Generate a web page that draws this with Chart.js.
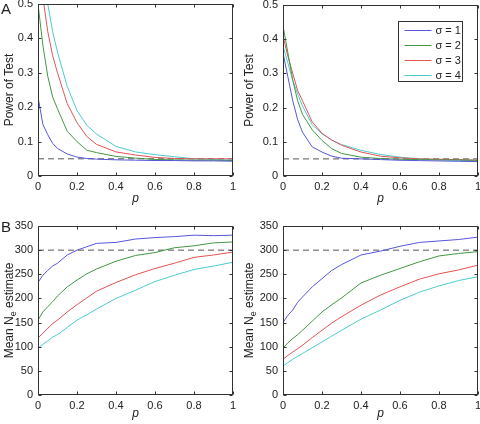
<!DOCTYPE html>
<html>
<head>
<meta charset="utf-8">
<script src="https://cdn.jsdelivr.net/npm/chart.js@4.4.1/dist/chart.umd.min.js"></script>
<style>
  html, body { margin: 0; padding: 0; background: #fff; }
  #wrap { position: relative; width: 480px; height: 424px; }
  canvas { position: absolute; }
</style>
</head>
<body>
<div id="wrap">
  <canvas id="powerLeft" width="240" height="212" style="left:0;top:0"></canvas>
  <canvas id="powerRight" width="240" height="212" style="left:240px;top:0"></canvas>
  <canvas id="neLeft" width="240" height="212" style="left:0;top:212px"></canvas>
  <canvas id="neRight" width="240" height="212" style="left:240px;top:212px"></canvas>
</div>
<script>
const FONT = "'Liberation Sans', Arial, Helvetica, sans-serif";
Chart.defaults.font.family = FONT;
Chart.defaults.font.size = 11;
Chart.defaults.color = "#222";

// sampled migration rates (x axis)
const pValues = [0, 0.025, 0.05, 0.075, 0.1, 0.15, 0.2, 0.25, 0.3, 0.4, 0.5, 0.6, 0.7, 0.8, 0.9, 1];
const pTicks = [0, 0.2, 0.4, 0.6, 0.8, 1];
const powerTicks = [0, 0.1, 0.2, 0.3, 0.4, 0.5];
const neTicks = [0, 50, 100, 150, 200, 250, 300, 350];
const sigmaLabels = ["σ = 1", "σ = 2", "σ = 3", "σ = 4"];
const sigmaColors = ["#5656dc", "#449644", "#e25454", "#4ccccf"];
const nominalPower = 0.05;
const trueNe = 300;

// A, left
const powerL1 = [0.23, 0.15, 0.12, 0.095, 0.08, 0.064, 0.055, 0.051, 0.049, 0.047, 0.046, 0.045, 0.045, 0.044, 0.044, 0.043];
const powerL2 = [0.5, 0.38, 0.29, 0.23, 0.195, 0.13, 0.1, 0.075, 0.068, 0.057, 0.052, 0.048, 0.047, 0.046, 0.046, 0.045];
const powerL3 = [0.62, 0.52, 0.42, 0.35, 0.3, 0.21, 0.155, 0.115, 0.092, 0.07, 0.061, 0.054, 0.051, 0.05, 0.05, 0.05];
const powerL4 = [0.7, 0.6, 0.5, 0.42, 0.36, 0.26, 0.19, 0.148, 0.122, 0.086, 0.07, 0.062, 0.056, 0.05, 0.048, 0.046];

// A, right
const powerR1 = [0.36, 0.29, 0.22, 0.165, 0.128, 0.085, 0.07, 0.058, 0.052, 0.05, 0.048, 0.046, 0.045, 0.044, 0.043, 0.042];
const powerR2 = [0.44, 0.36, 0.28, 0.22, 0.18, 0.135, 0.104, 0.08, 0.066, 0.055, 0.051, 0.049, 0.048, 0.047, 0.047, 0.046];
const powerR3 = [0.41, 0.35, 0.3, 0.25, 0.22, 0.158, 0.125, 0.105, 0.09, 0.07, 0.058, 0.053, 0.05, 0.049, 0.048, 0.046];
const powerR4 = [0.38, 0.33, 0.28, 0.24, 0.205, 0.15, 0.123, 0.105, 0.092, 0.075, 0.063, 0.055, 0.05, 0.048, 0.046, 0.044];

// B, left
const neL1 = [233, 248, 258, 267, 273, 290, 300, 307, 314, 316, 323, 326, 328, 331, 330, 331];
const neL2 = [155, 172, 183, 193, 205, 224, 238, 251, 261, 277, 289, 295, 305, 309, 315, 317];
const neL3 = [118, 128, 138, 148, 155, 172, 187, 201, 215, 233, 249, 262, 273, 285, 290, 296];
const neL4 = [97, 105, 112, 120, 125, 140, 155, 166, 178, 200, 217, 235, 248, 260, 267, 275];

// B, right
const neR1 = [150, 165, 176, 192, 203, 224, 241, 258, 270, 290, 298, 308, 316, 319, 322, 327];
const neR2 = [97, 108, 117, 125, 134, 153, 172, 187, 201, 232, 248, 262, 276, 288, 293, 297];
const neR3 = [74, 82, 89, 96, 103, 119, 134, 149, 162, 186, 207, 224, 240, 251, 259, 269];
const neR4 = [60, 67, 74, 80, 86, 98, 110, 122, 134, 157, 176, 196, 213, 226, 237, 245];

function fmt(v) {
  return String(Math.round(v * 10) / 10);
}

// box, inward ticks, titles, panel letter, legend
const decorPlugin = {
  id: "decor",
  afterDraw(chart, args, o) {
    const { ctx, chartArea: a, scales } = chart;
    ctx.save();
    ctx.strokeStyle = "#333";
    ctx.lineWidth = 1;
    const l = Math.round(a.left) + 0.5, r = Math.round(a.right) - 0.5;
    const t = Math.round(a.top) + 0.5, b = Math.round(a.bottom) - 0.5;
    ctx.strokeRect(l, t, r - l, b - t);
    ctx.beginPath();
    scales.x.ticks.forEach((tk) => {
      const x = Math.round(scales.x.getPixelForValue(tk.value)) + 0.5;
      ctx.moveTo(x, b); ctx.lineTo(x, b - 3);
      ctx.moveTo(x, t); ctx.lineTo(x, t + 3);
    });
    scales.y.ticks.forEach((tk) => {
      const y = Math.round(scales.y.getPixelForValue(tk.value)) + 0.5;
      ctx.moveTo(l, y); ctx.lineTo(l + 3, y);
      ctx.moveTo(r, y); ctx.lineTo(r - 3, y);
    });
    ctx.stroke();

    // x title
    ctx.fillStyle = "#222";
    ctx.font = "italic 12px " + FONT;
    ctx.textAlign = "center";
    ctx.textBaseline = "middle";
    ctx.fillText("p", (a.left + a.right) / 2, a.bottom + o.xTitleGap);

    // y title, with optional subscript
    ctx.save();
    ctx.translate(a.left - o.yTitleGap, (a.top + a.bottom) / 2);
    ctx.rotate(-Math.PI / 2);
    ctx.textAlign = "left";
    ctx.textBaseline = "middle";
    const big = "12px " + FONT, small = "9px " + FONT;
    const parts = o.yTitle;
    let total = 0;
    parts.forEach((pt) => { ctx.font = pt.sub ? small : big; total += ctx.measureText(pt.text).width; });
    let x = -total / 2;
    parts.forEach((pt) => {
      ctx.font = pt.sub ? small : big;
      ctx.fillText(pt.text, x, pt.sub ? 4 : 0);
      x += ctx.measureText(pt.text).width;
    });
    ctx.restore();

    if (o.letter) {
      ctx.font = "15px " + FONT;
      ctx.textAlign = "left";
      ctx.textBaseline = "alphabetic";
      ctx.fillText(o.letter, 1, o.letterY);
    }

    if (o.legend) {
      const bw = 64, bh = 60;
      const bx = Math.round(a.right - 16 - bw) + 0.5, by = Math.round(a.top + 16) + 0.5;
      ctx.fillStyle = "#fff";
      ctx.fillRect(bx, by, bw, bh);
      ctx.strokeStyle = "#333";
      ctx.strokeRect(bx, by, bw, bh);
      ctx.font = "11px " + FONT;
      ctx.textAlign = "left";
      ctx.textBaseline = "middle";
      sigmaLabels.forEach((lab, i) => {
        const y = Math.round(by + 8 + i * 15) + 0.5;
        ctx.strokeStyle = sigmaColors[i];
        ctx.beginPath();
        ctx.moveTo(bx + 6, y); ctx.lineTo(bx + 33, y);
        ctx.stroke();
        ctx.fillStyle = "#222";
        ctx.fillText(lab, bx + 37, y);
      });
    }
    ctx.restore();
  }
};

function renderPanel(id, cfg) {
  const ctx = document.getElementById(id);
  const datasets = cfg.series.map((vals, i) => ({
    label: sigmaLabels[i],
    data: vals.map((v, k) => ({ x: pValues[k], y: v })),
    borderColor: sigmaColors[i],
    borderWidth: 1,
    pointRadius: 0,
    tension: 0
  }));
  datasets.push({
    label: "reference",
    data: [{ x: 0, y: cfg.refLevel }, { x: 1, y: cfg.refLevel }],
    borderColor: "#555",
    borderWidth: 1,
    borderDash: [6, 4],
    pointRadius: 0
  });
  return new Chart(ctx, {
    type: "line",
    data: { datasets },
    options: {
      responsive: false,
      animation: false,
      events: [],
      layout: { padding: { left: 0, top: cfg.top, right: cfg.right, bottom: 0 } },
      plugins: {
        legend: { display: false },
        tooltip: { enabled: false },
        decor: {
          yTitle: cfg.yTitle,
          yTitleGap: cfg.yTitleGap,
          xTitleGap: cfg.xTitleGap,
          letter: cfg.letter,
          letterY: cfg.letterY,
          legend: cfg.legend
        }
      },
      scales: {
        x: {
          type: "linear",
          min: 0,
          max: 1,
          afterBuildTicks: (s) => { s.ticks = pTicks.map((v) => ({ value: v })); },
          afterFit: (s) => { s.height = cfg.xHeight; s.paddingLeft = 0; s.paddingRight = 0; },
          grid: { drawOnChartArea: false, drawTicks: false },
          border: { display: false },
          ticks: { padding: 4, maxRotation: 0, autoSkip: false, callback: fmt }
        },
        y: {
          type: "linear",
          min: 0,
          max: cfg.yMax,
          afterBuildTicks: (s) => { s.ticks = cfg.yTicks.map((v) => ({ value: v })); },
          afterFit: (s) => { s.width = cfg.yWidth; s.paddingTop = 0; s.paddingBottom = 0; },
          grid: { drawOnChartArea: false, drawTicks: false },
          border: { display: false },
          ticks: { padding: 5, autoSkip: false, callback: cfg.yFmt }
        }
      }
    },
    plugins: [decorPlugin]
  });
}

const powerTitle = [{ text: "Power of Test" }];
const neTitle = [{ text: "Mean N" }, { text: "e", sub: true }, { text: " estimate" }];

renderPanel("powerLeft", {
  series: [powerL1, powerL2, powerL3, powerL4], refLevel: nominalPower,
  yMax: 0.5, yTicks: powerTicks, yFmt: fmt, yTitle: powerTitle,
  top: 4, right: 7, yWidth: 38, xHeight: 36, yTitleGap: 28, xTitleGap: 23,
  letter: "A", letterY: 14, legend: false
});
renderPanel("powerRight", {
  series: [powerR1, powerR2, powerR3, powerR4], refLevel: nominalPower,
  yMax: 0.5, yTicks: powerTicks, yFmt: fmt, yTitle: powerTitle,
  top: 5, right: 2, yWidth: 43, xHeight: 36, yTitleGap: 33, xTitleGap: 23,
  letter: null, legend: true
});
renderPanel("neLeft", {
  series: [neL1, neL2, neL3, neL4], refLevel: trueNe,
  yMax: 350, yTicks: neTicks, yFmt: (v) => String(v), yTitle: neTitle,
  top: 14, right: 7, yWidth: 38, xHeight: 29, yTitleGap: 28, xTitleGap: 19,
  letter: "B", letterY: 20, legend: false
});
renderPanel("neRight", {
  series: [neR1, neR2, neR3, neR4], refLevel: trueNe,
  yMax: 350, yTicks: neTicks, yFmt: (v) => String(v), yTitle: neTitle,
  top: 14, right: 2, yWidth: 43, xHeight: 29, yTitleGap: 33, xTitleGap: 19,
  letter: null, legend: false
});
</script>
</body>
</html>
